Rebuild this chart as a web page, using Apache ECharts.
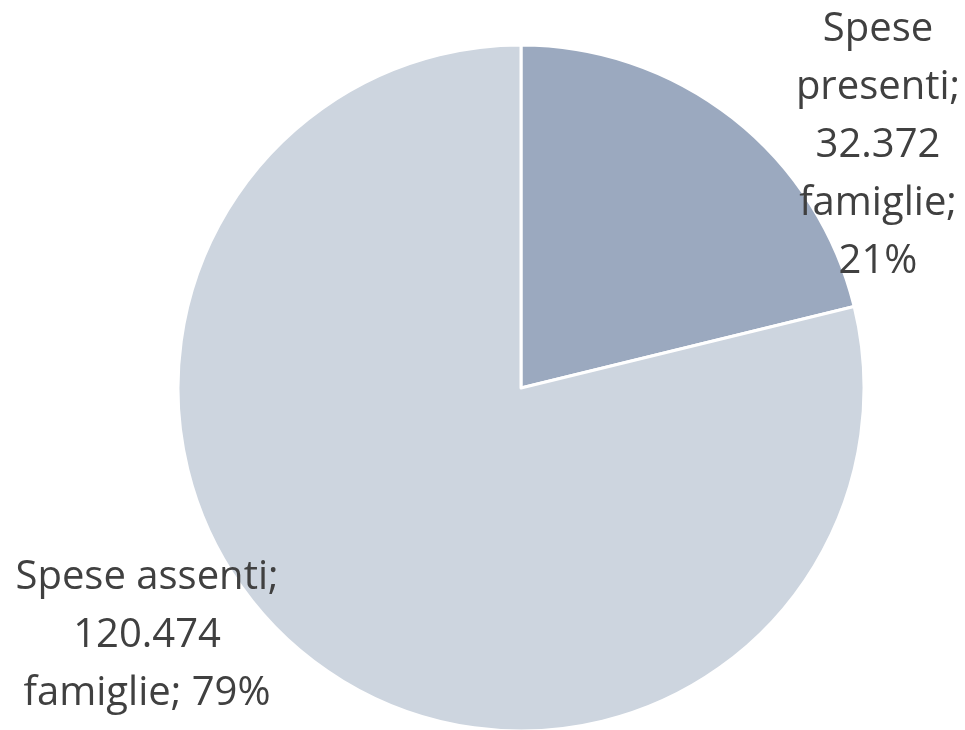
<!DOCTYPE html>
<html><head><meta charset="utf-8">
<script src="https://cdn.jsdelivr.net/npm/echarts@6/dist/echarts.min.js"></script>
<style>html,body{margin:0;padding:0;background:#fff}#c{width:965px;height:730px}</style>
</head><body><div id="c"></div>
<script>
const categories = ['Spese presenti', 'Spese assenti'];
const values = [32372, 120474];
const unit = 'famiglie';
const colors = ['#9BA9BF', '#CDD5DF'];

const labelText = [
  p => 'Spese\npresenti;\n' + fmt(p.value) + '\n' + unit + ';\n' + Math.round(p.percent) + '%',
  p => 'Spese assenti;\n' + fmt(p.value) + '\n' + unit + '; ' + Math.round(p.percent) + '%'
];
function fmt(v){ return v.toString().replace(/\B(?=(\d{3})+(?!\d))/g, '.'); }

const chart = echarts.init(document.getElementById('c'));
chart.setOption({
  animation: false,
  series: [{
    type: 'pie',
    center: [521, 388],
    radius: 343,
    startAngle: 90,
    clockwise: true,
    data: categories.map((n, i) => ({name: n, value: values[i], itemStyle: {color: colors[i]}})),
    itemStyle: {borderColor: '#fff', borderWidth: 3},
    labelLine: {show: false},
    label: {
      show: true,
      position: 'outside',
      overflow: 'none',
      edgeDistance: 0,
      formatter: p => labelText[p.dataIndex](p),
      fontFamily: 'Open Sans',
      fontSize: 40,
      lineHeight: 58,
      color: '#404040',
      align: 'center'
    },
    labelLayout: function (params) {
      if (params.dataIndex === 0) return {x: 878, y: 146, align: 'center', verticalAlign: 'middle'};
      return {x: 147, y: 636, align: 'center', verticalAlign: 'middle'};
    }
  }]
});
</script></body></html>
